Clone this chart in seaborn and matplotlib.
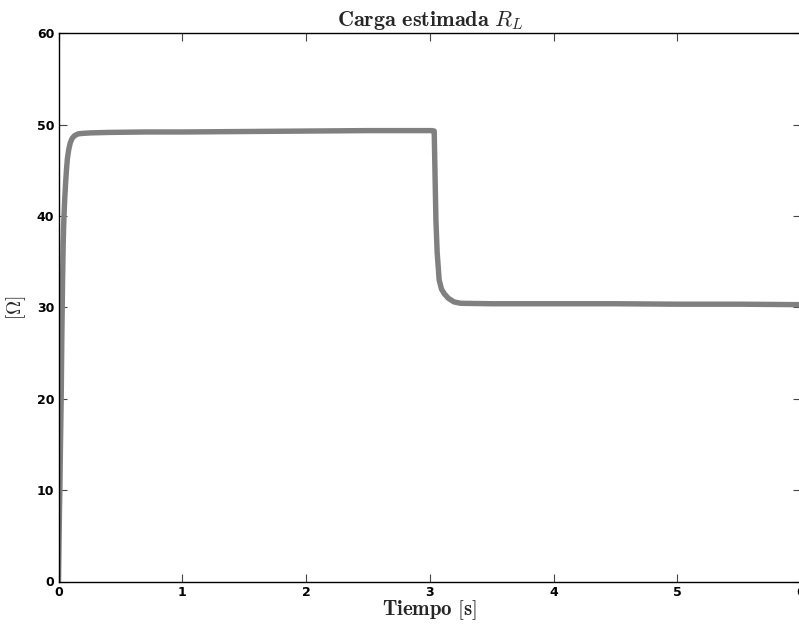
import matplotlib
matplotlib.use("Agg")
import matplotlib.pyplot as plt
import seaborn as sns
import pandas as pd

# Estimated load resistance R_L over time
tiempo = [0.0, 0.004, 0.008, 0.011, 0.016, 0.022, 0.027, 0.033, 0.038, 0.043,
          0.050, 0.057, 0.064, 0.072, 0.083, 0.095, 0.110, 0.130, 0.160, 0.200,
          0.260, 0.400, 0.700, 1.000, 1.500, 2.000, 2.500, 2.900, 3.020, 3.036,
          3.042, 3.050, 3.060, 3.076, 3.095, 3.117, 3.150, 3.196, 3.250, 3.500,
          4.000, 4.500, 5.000, 5.500, 6.000]
carga = [0.0, 4.0, 8.0, 10.0, 15.0, 20.2, 27.0, 33.0, 37.0, 39.5,
         41.8, 43.5, 45.0, 46.3, 47.3, 48.0, 48.5, 48.8, 49.0, 49.05,
         49.1, 49.15, 49.2, 49.2, 49.25, 49.3, 49.35, 49.35, 49.35, 49.3,
         45.0, 39.5, 36.0, 33.0, 32.0, 31.5, 31.0, 30.6, 30.45, 30.4,
         30.4, 30.4, 30.35, 30.35, 30.3]

xticks = [0, 1, 2, 3, 4, 5, 6]
yticks = [0, 10, 20, 30, 40, 50, 60]

df = pd.DataFrame({"t": tiempo, "R": carga})

sns.set_style("ticks")
plt.rcParams["mathtext.fontset"] = "cm"
plt.rcParams["font.family"] = ["DejaVu Sans"]

fig = plt.figure(figsize=(7.99, 6.26), dpi=100)
ax = fig.add_axes([58.5 / 799, 1 - 581.5 / 626, 742.5 / 799, 548.2 / 626])

sns.lineplot(data=df, x="t", y="R", ax=ax, color="#808080", linewidth=3.9,
             estimator=None, sort=False, solid_joinstyle="round",
             solid_capstyle="round")

ax.set_xlim(0, 6)
ax.set_ylim(0, 60)
ax.set_xticks(xticks)
ax.set_yticks(yticks)
ax.set_xticklabels([str(v) for v in xticks])
ax.set_yticklabels([str(v) for v in yticks])

for s in ax.spines.values():
    s.set_visible(True)
    s.set_linewidth(1.0)
    s.set_color("black")

ax.tick_params(direction="in", length=5.5, width=0.8, color="#444444",
               top=True, right=True, labelsize=9, pad=3, labelcolor="black")
for lab in ax.get_xticklabels() + ax.get_yticklabels():
    lab.set_fontweight("bold")

ax.set_title(r"$\mathbf{Carga\ estimada}\ R_L$", fontsize=16, pad=5)
ax.set_xlabel(r"$\mathbf{Tiempo\ [s]}$", fontsize=15, labelpad=0)
ax.set_ylabel(r"$[\Omega]$", fontsize=14, labelpad=6)

fig.savefig("out.png", dpi=100)
